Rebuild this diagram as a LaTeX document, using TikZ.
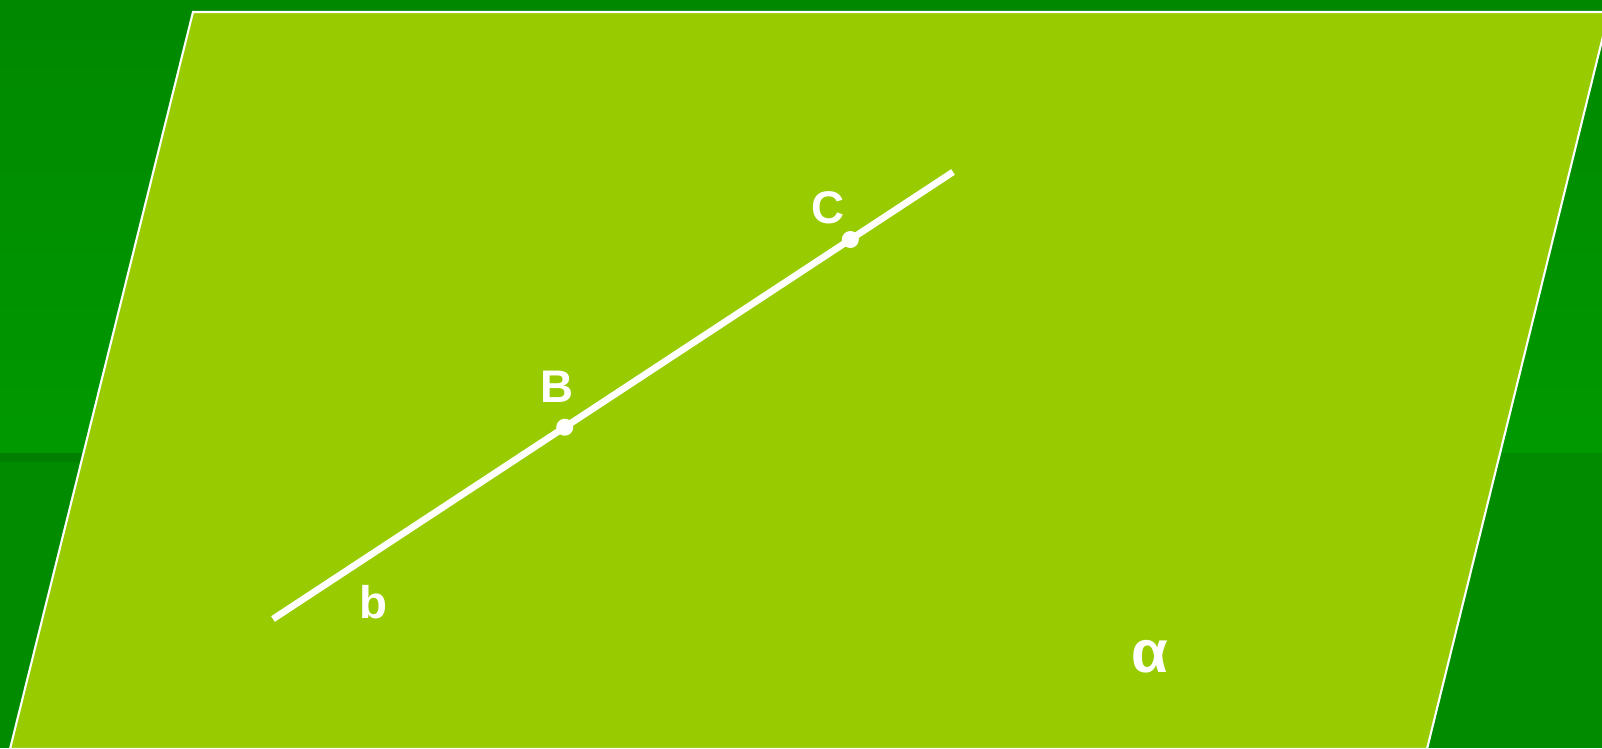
\documentclass[tikz,border=0pt]{standalone}
\usepackage{fontspec}
\setmainfont{Liberation Sans}
\usetikzlibrary{calc}
\definecolor{gdark}{HTML}{008800}
\definecolor{gmid}{HTML}{009900}
\definecolor{glow}{HTML}{008B00}
\definecolor{gband}{HTML}{007F00}
\definecolor{plane}{HTML}{99CC00}
\tikzset{
  planebox/.style={fill=plane, draw=white, line width=0.6pt},
  lineb/.style={draw=white, line width=1.9pt},
  pt/.style={circle, fill=white, inner sep=0pt, minimum size=0.17cm},
  lbl/.style={text=white, font=\fontsize{13}{15}\selectfont\bfseries},
}
\begin{document}
\begin{tikzpicture}[x=0.01cm, y=-0.01cm]

  % background
  \useasboundingbox (0,0) rectangle (1602,748);
  \shade[top color=gdark, bottom color=gmid] (0,0) rectangle (1602,453);
  \fill[glow] (0,453) rectangle (1602,748);
  \fill[gband] (0,453) rectangle (120,462);

  % plane alpha
  \filldraw[planebox] (193,12) -- (1609,12) -- (1427,749) -- (10,749) -- cycle;

  % line b with points B, C
  \coordinate (b0) at (273,619);
  \coordinate (b1) at (953,172);
  \draw[lineb] (b0) -- (b1);
  \node[pt] (B) at ($(b0)!0.429!(b1)$) {};
  \node[pt] (C) at ($(b0)!0.849!(b1)$) {};

  \node[lbl] (labB) at (557,387) {B};
  \node[lbl] (labC) at (828,208) {C};
  \node[lbl] (labb) at (373,602) {b};
  \node[lbl, font=\fontsize{17}{20}\selectfont\bfseries] (alpha) at (1150,657) {α};
\end{tikzpicture}
\end{document}
